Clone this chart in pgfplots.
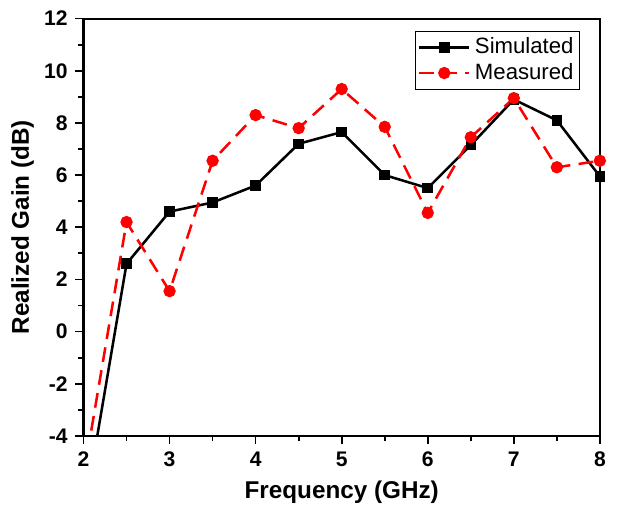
\documentclass[border=2pt]{standalone}
\usepackage{pgfplots}
\pgfplotsset{compat=1.18}
\usepackage{fontspec}
\setmainfont{Liberation Sans}

\begin{document}
\begin{tikzpicture}
\begin{axis}[
    scale only axis,
    width=8.6cm, height=6.95cm,
    xmin=2, xmax=8, ymin=-4, ymax=12,
    xtick={2,3,...,8}, ytick={-4,-2,...,12},
    minor xtick={2.5,3.5,...,7.5}, minor ytick={-3,-1,...,11},
    tick align=outside,
    tick pos=left,
    major tick length=4pt, minor tick length=2.5pt,
    axis line style={line width=1pt},
    every tick/.style={black, line width=0.8pt},
    ticklabel style={font=\fontsize{10}{12}\selectfont\bfseries},
    /pgf/number format/assume math mode=true,
    xlabel={\fontsize{11.5}{13}\selectfont\bfseries Frequency (GHz)},
    ylabel={\fontsize{11.5}{13}\selectfont\bfseries Realized Gain (dB)},
    ylabel style={yshift=-2pt},
    legend style={at={(0.962,0.97)}, anchor=north east, draw=black,
        font=\fontsize{10.5}{12}\selectfont, inner sep=1pt, row sep=-1pt},
    legend cell align=left,
    legend image code/.code={
        \draw[mark repeat=2, mark phase=2]
            plot coordinates {(0cm,0cm) (0.42cm,0cm) (0.84cm,0cm)};
    },
    clip=true,
]
\addplot[black, line width=1.2pt, mark=square*, mark size=1.9pt,
    mark options={solid}] coordinates {
    (2,-7.1) (2.5,2.6) (3,4.6) (3.5,4.95) (4,5.6) (4.5,7.2) (5,7.65)
    (5.5,6.0) (6,5.5) (6.5,7.15) (7,8.9) (7.5,8.1) (8,5.95)
};
\addplot[red, line width=1.2pt, dash pattern=on 7pt off 4pt, mark=*,
    mark size=2.3pt, mark options={solid}] coordinates {
    (2,-5.55) (2.5,4.2) (3,1.55) (3.5,6.55) (4,8.3) (4.5,7.8) (5,9.3)
    (5.5,7.85) (6,4.55) (6.5,7.45) (7,8.95) (7.5,6.3) (8,6.55)
};
\legend{Simulated, Measured}
\end{axis}
\end{tikzpicture}
\end{document}
